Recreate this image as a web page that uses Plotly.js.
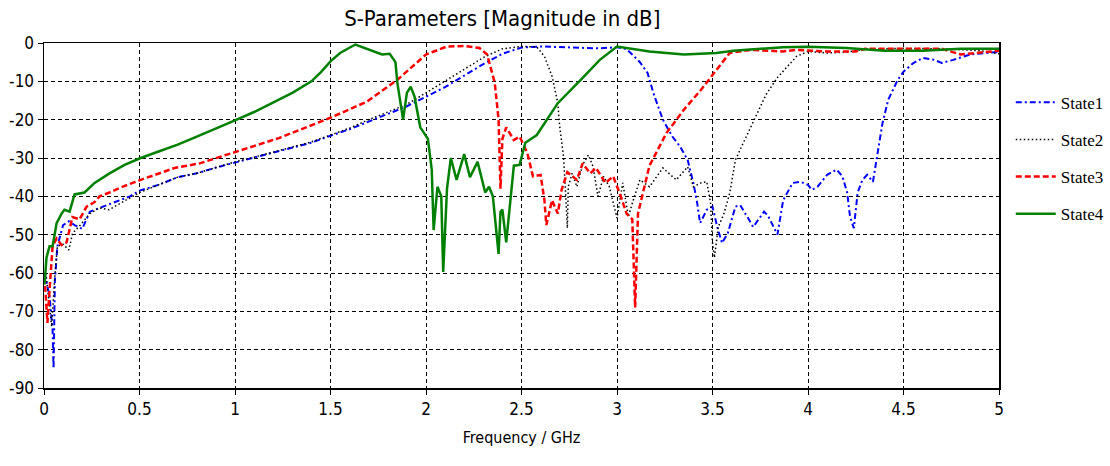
<!DOCTYPE html>
<html>
<head>
<meta charset="utf-8">
<script src="https://cdn.plot.ly/plotly-3.0.1.min.js"></script>
<style>html,body{margin:0;padding:0;background:#fff}#chart{width:1110px;height:466px}</style>
</head>
<body>
<div id="chart"></div>
<script>
// ---- data (frequency in GHz, magnitude in dB) ----
const seriesNames = ["State1", "State2", "State3", "State4"];

const state1_f = [0.003,0.029,0.045,0.05,0.057,0.07,0.1,0.13,0.16,0.2,0.24,0.29,0.34,0.4,0.45,0.5,0.6,0.7,0.8,0.9,1.0,1.1,1.25,1.4,1.5,1.6,1.7,1.8,1.9,2.0,2.1,2.2,2.3,2.4,2.5,2.6,2.7,2.8,2.9,3.0,3.05,3.08,3.12,3.16,3.19,3.24,3.29,3.33,3.37,3.4,3.42,3.435,3.47,3.5,3.525,3.55,3.58,3.62,3.645,3.69,3.713,3.77,3.79,3.84,3.87,3.92,3.96,4.0,4.02,4.05,4.1,4.15,4.18,4.205,4.22,4.24,4.26,4.285,4.31,4.34,4.36,4.39,4.42,4.47,4.5,4.55,4.6,4.66,4.7,4.76,4.85,4.96,5.0];
const state1_db = [-60,-66,-75,-85,-62,-53,-47.5,-46.5,-47.5,-48.5,-44,-43,-42,-41,-40,-38.5,-37,-35,-34,-32.5,-31.2,-30,-28,-26,-24.2,-22.5,-20.5,-18.5,-16.5,-14,-11.5,-8.5,-5.5,-2.8,-1.2,-0.9,-1.1,-1.2,-1.4,-1.1,-1.6,-3,-5,-7.8,-13,-20,-24.4,-27,-30.5,-36.5,-41.8,-47,-43.5,-42.7,-48,-52.2,-49.6,-42.7,-42.3,-46,-48,-44,-45,-50,-41,-36.5,-36.2,-37,-38.3,-37.5,-34.4,-33,-34.8,-39,-45.3,-48.3,-39,-35.7,-34.4,-36.2,-30.5,-20.9,-14.8,-9.6,-7.5,-5.3,-3.9,-4.4,-5.2,-4.4,-3,-2.5,-2.3];

const state2_f = [0.01,0.02,0.03,0.04,0.055,0.07,0.1,0.13,0.15,0.19,0.24,0.29,0.34,0.4,0.46,0.5,0.6,0.7,0.8,0.9,1.0,1.1,1.25,1.4,1.5,1.6,1.7,1.8,1.9,2.0,2.1,2.2,2.3,2.4,2.5,2.58,2.62,2.66,2.69,2.7,2.72,2.73,2.74,2.745,2.765,2.79,2.82,2.85,2.875,2.9,2.93,2.96,3.0,3.03,3.06,3.08,3.12,3.17,3.24,3.31,3.37,3.4,3.44,3.47,3.49,3.5,3.51,3.53,3.56,3.59,3.62,3.66,3.72,3.78,3.84,3.91,3.94,4.0,4.1,4.2,4.3,4.5,4.7,4.9,5.0];
const state2_db = [-60,-65,-70,-74,-62,-53,-52.5,-54,-49.6,-47.5,-44.5,-43,-43.5,-41.8,-40,-39,-37,-35,-34,-32.5,-31,-29.8,-27.8,-25.8,-24,-22.2,-20,-18,-16,-13,-10,-7,-3.8,-1.5,-0.9,-1,-3.5,-8.7,-15.6,-21.8,-29.6,-38.3,-48.3,-37.5,-34,-37.5,-31.8,-29.2,-32.3,-40,-34.8,-37.5,-45.7,-36.5,-45.3,-41.8,-35.7,-37.5,-32.6,-35.7,-32.3,-37.5,-36.5,-36.2,-41.8,-52.2,-56,-48,-44.5,-39.2,-30.5,-26.2,-20,-13.5,-9,-5.2,-3.5,-2.2,-2.6,-2.4,-1.6,-1.4,-1.5,-2,-2.8];

const state3_f = [0.003,0.018,0.029,0.045,0.066,0.092,0.118,0.149,0.186,0.223,0.265,0.291,0.343,0.396,0.506,0.684,0.815,1.0,1.23,1.5,1.69,1.85,2.0,2.11,2.2,2.28,2.32,2.36,2.38,2.39,2.4,2.42,2.46,2.49,2.53,2.56,2.6,2.62,2.63,2.66,2.69,2.71,2.74,2.79,2.82,2.86,2.89,2.94,2.98,3.02,3.05,3.08,3.095,3.11,3.14,3.17,3.26,3.35,3.44,3.52,3.59,3.7,3.87,3.94,4.1,4.25,4.3,4.5,4.7,4.8,4.9,5.0];
const state3_db = [-61,-73,-64.5,-53,-51,-52.7,-52,-45.4,-46,-42.7,-41.5,-40,-39,-37.8,-35.7,-32.6,-31.4,-28.4,-24.8,-19.5,-15.3,-9.6,-3,-0.9,-0.8,-1.3,-3,-10.4,-20,-38,-25,-22,-25.3,-24.4,-28.6,-34.8,-34.4,-41,-47.5,-41,-44.5,-38.3,-33.7,-35.7,-31.4,-34,-32.6,-36.5,-34.8,-40,-44.5,-46,-69,-44.5,-38.3,-32,-23.4,-17.4,-12.2,-7,-2.6,-1.8,-2.2,-1.8,-2.2,-2.2,-1.5,-1.5,-1.5,-3,-2.5,-2];

const state4_f = [0.003,0.013,0.029,0.045,0.066,0.092,0.107,0.134,0.16,0.212,0.265,0.343,0.422,0.506,0.6,0.7,0.8,0.9,1.0,1.1,1.2,1.3,1.4,1.45,1.5,1.55,1.63,1.71,1.77,1.81,1.84,1.85,1.88,1.9,1.92,1.94,1.97,2.01,2.03,2.04,2.06,2.08,2.09,2.11,2.13,2.16,2.2,2.23,2.27,2.31,2.33,2.35,2.38,2.39,2.4,2.42,2.44,2.46,2.49,2.52,2.58,2.69,2.81,2.91,3.0,3.17,3.35,3.52,3.61,3.87,4.0,4.2,4.4,4.6,4.8,5.0];
const state4_db = [-63,-56,-53,-53,-47,-44.5,-43.5,-44,-39.5,-39,-36.5,-34,-31.8,-30,-28.3,-26.5,-24.4,-22.4,-20.2,-18,-15.6,-13,-10,-7.6,-4.8,-2.6,-0.4,-2,-3,-2.8,-5,-10.4,-20,-13,-11.4,-14,-22,-25,-33,-48.8,-37.5,-40,-59.7,-38,-30,-35.7,-29,-35,-31,-39,-37.5,-40,-55,-44,-43.5,-52,-41,-32,-31.8,-26,-24,-15.7,-9.6,-4.4,-0.9,-2.2,-3,-2.6,-2,-1.1,-1,-1.3,-2,-2,-1.5,-1.5];

const xTickVals = [0,0.5,1,1.5,2,2.5,3,3.5,4,4.5,5];
const xTickText = ["0","0.5","1","1.5","2","2.5","3","3.5","4","4.5","5"];
const yTickVals = [0,-10,-20,-30,-40,-50,-60,-70,-80,-90];
const yTickText = ["0","-10","-20","-30","-40","-50","-60","-70","-80","-90"];

const xs = [state1_f, state2_f, state3_f, state4_f];
const ys = [state1_db, state2_db, state3_db, state4_db];
const styles = [
  {color:"#0000ff", width:2, dash:"6px,3px,2px,3px"},
  {color:"#000000", width:1.5, dash:"1.5px,2.5px"},
  {color:"#ff0000", width:2.5, dash:"6px,3px"},
  {color:"#008000", width:2.5, dash:"solid"}
];

const traces = seriesNames.map((n,i)=>({
  type:"scatter", mode:"lines", name:n, x:xs[i], y:ys[i],
  legendgroup:n, line:styles[i]
}));

const tickFont = {family:"DejaVu Sans Condensed, DejaVu Sans", size:17, color:"#000"};
const layout = {
  width:1110, height:466,
  paper_bgcolor:"#fff", plot_bgcolor:"#fff",
  margin:{l:44, r:111, t:43, b:78},
  title:{text:"S-Parameters [Magnitude in dB]", font:{family:"DejaVu Sans Condensed, DejaVu Sans", size:22, color:"#000"},
         xref:"container", x:0.4525, xanchor:"center", yref:"container", y:0.96, yanchor:"middle"},
  xaxis:{range:[0,5], tickmode:"array", tickvals:xTickVals, ticktext:xTickText,
    showgrid:true, gridcolor:"#000", gridwidth:1, griddash:"4px,3px",
    showline:true, linecolor:"#000", linewidth:1.5, mirror:true,
    ticks:"outside", ticklen:5, tickcolor:"#000", tickfont:tickFont, zeroline:false,
    title:{text:"Frequency / GHz", font:{family:"DejaVu Sans Condensed, DejaVu Sans", size:16, color:"#000"}, standoff:14}},
  yaxis:{range:[-90,0], tickmode:"array", tickvals:yTickVals, ticktext:yTickText,
    showgrid:true, gridcolor:"#000", gridwidth:1, griddash:"4px,3px",
    showline:true, linecolor:"#000", linewidth:1.5, mirror:true,
    ticks:"outside", ticklen:5, tickcolor:"#000", tickfont:tickFont, zeroline:false},
  showlegend:true,
  legend:{x:0.9106, xanchor:"left", y:0.818, yanchor:"top", xref:"container", yref:"container",
    font:{family:"Liberation Serif", size:17, color:"#000"}, tracegroupgap:12, itemwidth:40, bgcolor:"rgba(0,0,0,0)"}
};

Plotly.newPlot("chart", traces, layout, {displayModeBar:false, staticPlot:true});
</script>
</body>
</html>
